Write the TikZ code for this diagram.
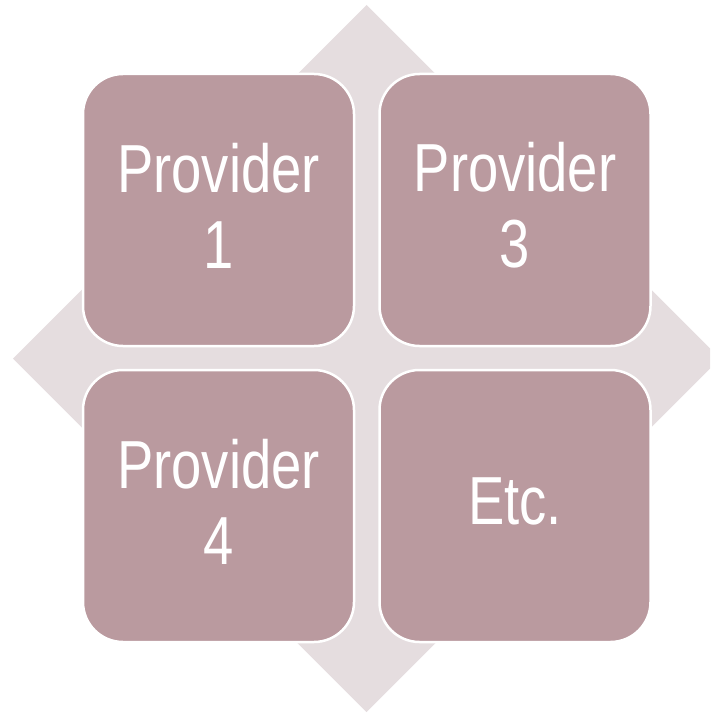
\documentclass[tikz,border=0pt]{standalone}
\usepackage{fontspec}
\newfontfamily\narrowfont[FakeStretch=0.8]{Liberation Sans}
\definecolor{boxfill}{RGB}{186,154,159}
\definecolor{diamondfill}{RGB}{229,221,223}
\tikzset{
  cell/.style={draw=white, line width=2.5pt, fill=boxfill, rounded corners=40pt,
    minimum width=271pt, minimum height=272pt, inner sep=0pt},
  celltext/.style={text=white, align=center, inner sep=0pt,
    font=\narrowfont\fontsize{68}{76}\selectfont}
}
\begin{document}
\begin{tikzpicture}[x=1pt,y=-1pt]
\useasboundingbox (0,0) rectangle (710,714);
\begin{scope}
\clip (0,0) rectangle (710,714);
\fill[diamondfill] (366.5,5) -- (720,358.5) -- (366.5,712) -- (13,358.5) -- cycle;
\end{scope}
\node[cell] (tl) at (218.5,210) {};
\node[cell] (tr) at (515,210) {};
\node[cell] (bl) at (218.5,506) {};
\node[cell] (br) at (515,506) {};
\node[celltext] (t1) at ([yshift=4.5pt]tl.center) {Provider\\1};
\node[celltext] (t3) at ([yshift=4.5pt]tr.center) {Provider\\3};
\node[celltext] (t4) at ([yshift=4.5pt]bl.center) {Provider\\4};
\node[celltext] (t5) at ([yshift=4.5pt]br.center) {Etc.};
\end{tikzpicture}
\end{document}
